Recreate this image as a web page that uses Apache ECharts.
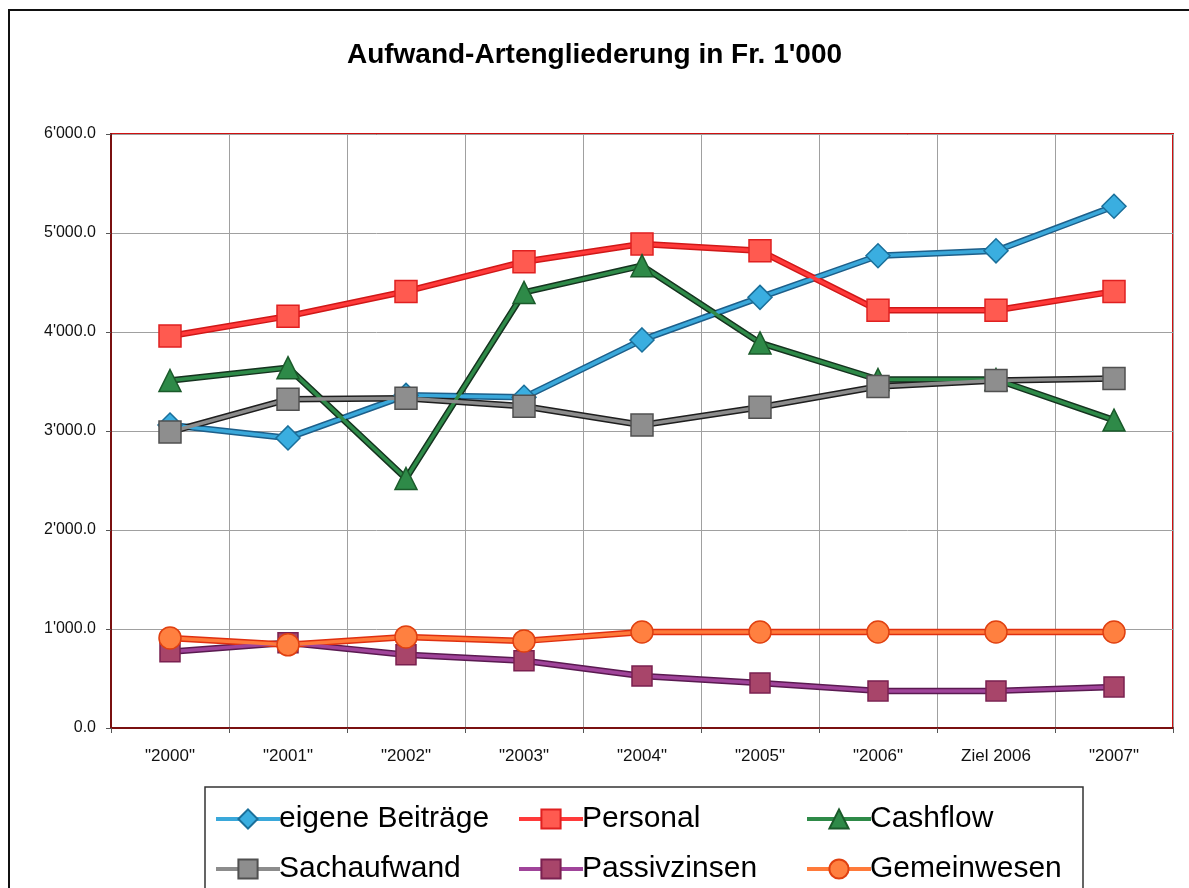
<!DOCTYPE html>
<html><head><meta charset="utf-8">
<script src="https://cdn.jsdelivr.net/npm/echarts@6/dist/echarts.min.js"></script>
<style>html,body{margin:0;padding:0;background:#fff}#c{width:1189px;height:888px}</style>
</head><body><div id="c"></div>
<script>
const categories = ['"2000"','"2001"','"2002"','"2003"','"2004"','"2005"','"2006"','Ziel 2006','"2007"'];
const eigeneBeitraege = [3060, 2930, 3360, 3340, 3920, 4350, 4770, 4820, 5270];
const personal = [3960, 4160, 4410, 4710, 4890, 4820, 4220, 4220, 4410];
const cashflow = [3510, 3640, 2520, 4400, 4670, 3890, 3520, 3520, 3110];
const sachaufwand = [2990, 3320, 3330, 3250, 3060, 3240, 3450, 3510, 3530];
const passivzinsen = [770, 860, 740, 680, 525, 455, 375, 375, 415];
const gemeinwesen = [910, 840, 920, 880, 970, 970, 970, 970, 970];
const yTicks = [0, 1000, 2000, 3000, 4000, 5000, 6000];

function fmt(v){
  const s = Math.round(v).toString();
  const t = s.replace(/\B(?=(\d{3})+(?!\d))/g, "'");
  return t + '.0';
}
const font = 'Liberation Sans, Arial, sans-serif';

const defs = [
  ['eigene Beiträge', eigeneBeitraege, '#3aa8da', '#1d5f8a', '#3aaee0', '#1a6f9a', 'diamond', 24],
  ['Personal', personal, '#ff3a3a', '#d01818', '#ff5a50', '#e02020', 'rect', 22],
  ['Cashflow', cashflow, '#2e8a48', '#15331f', '#2e8a48', '#1a5a2a', 'triangle', 22],
  ['Sachaufwand', sachaufwand, '#8c8c8c', '#1e1e1e', '#8e8e8e', '#505050', 'rect', 22],
  ['Passivzinsen', passivzinsen, '#a0449a', '#5a1a50', '#a8456a', '#7a2050', 'rect', 20],
  ['Gemeinwesen', gemeinwesen, '#ff7a3a', '#e03010', '#ff8040', '#e04010', 'circle', 22]
];

const series = [];
defs.forEach(d => {
  series.push({name:d[0]+' ', type:'line', data:d[1], symbol:'none', silent:true,
    lineStyle:{color:d[3], width:6.5}, emphasis:{disabled:true}, z:2});
});
defs.forEach(d => {
  series.push({name:d[0], type:'line', data:d[1], symbol:d[6], symbolSize:d[7],
    lineStyle:{color:d[2], width:3.5},
    itemStyle:{color:d[4], borderColor:d[5], borderWidth:1.5},
    emphasis:{disabled:true}, z:3});
});

const legendCommon = {orient:'vertical', top:799, height:200, itemGap:20, itemWidth:64, itemHeight:24,
  lineStyle:{width:4},
  textStyle:{fontFamily:font, fontSize:30, color:'#000', padding:[0,0,0,-6]}};

const chart = echarts.init(document.getElementById('c'), null, {renderer:'canvas'});
chart.setOption({
  animation:false,
  backgroundColor:'#fff',
  title:{text:"Aufwand-Artengliederung in Fr. 1'000", left:'center', top:36,
    textStyle:{fontFamily:font, fontSize:28, fontWeight:'bold', color:'#000'}},
  grid:{left:111, right:16, top:134, bottom:160, show:true, borderColor:'#d01010', borderWidth:2, backgroundColor:'#fff'},
  xAxis:{type:'category', data:categories, boundaryGap:true,
    axisLine:{show:true, lineStyle:{color:'#7a1010', width:2}},
    axisTick:{show:true, length:5, lineStyle:{color:'#555'}},
    axisLabel:{fontFamily:font, fontSize:17, color:'#111', margin:20},
    splitLine:{show:true, lineStyle:{color:'#a0a0a0', width:1}}},
  yAxis:{type:'value', min:yTicks[0], max:yTicks[yTicks.length-1], interval:1000,
    axisLine:{show:true, lineStyle:{color:'#7a1010', width:2}},
    axisTick:{show:true, length:5, lineStyle:{color:'#555'}},
    axisLabel:{fontFamily:font, fontSize:16, color:'#111', margin:15, formatter:fmt},
    splitLine:{show:true, lineStyle:{color:'#a0a0a0', width:1}}},
  legend:[
    Object.assign({data:['eigene Beiträge','Sachaufwand'], left:209}, legendCommon),
    Object.assign({data:['Personal','Passivzinsen'], left:512}, legendCommon),
    Object.assign({data:['Cashflow','Gemeinwesen'], left:800}, legendCommon)
  ],
  graphic:[
    {type:'rect', shape:{x:9, y:10, width:1200, height:890}, style:{fill:'none', stroke:'#111', lineWidth:2}, z:-10},
    {type:'rect', shape:{x:205, y:787, width:878, height:110}, style:{fill:'#fff', stroke:'#333', lineWidth:1.5}, z:-5}
  ],
  series
});
</script></body></html>
